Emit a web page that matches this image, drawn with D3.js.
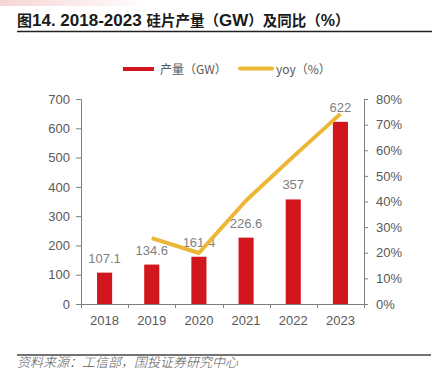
<!DOCTYPE html>
<html><head><meta charset="utf-8">
<script src="https://cdn.jsdelivr.net/npm/d3@7/dist/d3.min.js"></script>
<style>body{margin:0;background:#fff}svg{display:block}</style>
</head><body>
<svg id="c" width="432" height="382"></svg>
<script>
const years = ["2018","2019","2020","2021","2022","2023"];
const output = [107.1,134.6,161.4,226.6,357,622];
const yoy = [null,25.7,19.9,40.4,57.5,74.2];
const leftTicks = [0,100,200,300,400,500,600,700];
const rightTicks = [0,10,20,30,40,50,60,70,80];

const svg = d3.select("#c");
const latin = "'Liberation Sans', Arial, sans-serif";
const cjk = "'Noto Sans CJK SC', sans-serif";

// faint top-left tint
const defs = svg.append("defs");
const g1 = defs.append("linearGradient").attr("id","tint").attr("x1","0").attr("x2","1").attr("y1","0").attr("y2","0");
g1.append("stop").attr("offset","0").attr("stop-color","#f2b8b8").attr("stop-opacity",0.6);
g1.append("stop").attr("offset","1").attr("stop-color","#f2b8b8").attr("stop-opacity",0);
svg.append("rect").attr("x",0).attr("y",0).attr("width",150).attr("height",6).attr("fill","url(#tint)");

// title
const t = svg.append("text").attr("x",17).attr("y",26).attr("fill","#1a1a1a");
t.append("tspan").attr("font-family",cjk).attr("font-size",15).attr("font-weight",700).text("图");
t.append("tspan").attr("font-family",latin).attr("font-size",17).attr("font-weight",700).text("14. 2018-2023 ");
t.append("tspan").attr("font-family",cjk).attr("font-size",14.5).attr("font-weight",700).text("硅片产量（");
t.append("tspan").attr("font-family",latin).attr("font-size",17).attr("font-weight",700).text("GW");
t.append("tspan").attr("font-family",cjk).attr("font-size",14.5).attr("font-weight",700).text("）及同比（");
t.append("tspan").attr("font-family",latin).attr("font-size",16).attr("font-weight",700).text("%");
t.append("tspan").attr("font-family",cjk).attr("font-size",14.5).attr("font-weight",700).text("）");
svg.append("line").attr("x1",17).attr("x2",432).attr("y1",31.5).attr("y2",31.5).attr("stroke","#222").attr("stroke-width",1.5);

// legend
svg.append("rect").attr("x",123).attr("y",67).attr("width",31).attr("height",4).attr("fill","#d2161e");
svg.append("text").attr("x",160).attr("y",73.5).attr("font-family",cjk).attr("font-size",12).attr("fill","#595959").text("产量（GW）");
svg.append("line").attr("x1",240).attr("x2",272).attr("y1",68.5).attr("y2",68.5).attr("stroke","#ebb735").attr("stroke-width",4).attr("stroke-linecap","round");
svg.append("text").attr("x",276).attr("y",73.5).attr("font-family",cjk).attr("font-size",12).attr("fill","#595959").text("yoy（%）");

// scales
const left = 81, right = 364, y0 = 304, yTop = 99;
const x = d3.scaleBand().domain(years).range([left,right]).paddingInner(0.68).paddingOuter(0.34);
const yL = d3.scaleLinear().domain([0,700]).range([y0,yTop]);
const yR = d3.scaleLinear().domain([0,80]).range([y0,yTop]);

const axisColor = "#7f7f7f";
function styleAxis(g){
  g.select(".domain").attr("stroke",axisColor);
  g.selectAll(".tick line").attr("stroke",axisColor);
  g.selectAll(".tick text").attr("font-family",latin).attr("font-size",13).attr("fill","#595959");
}
svg.append("g").attr("transform",`translate(${left},0)`)
  .call(d3.axisLeft(yL).tickValues(leftTicks).tickSize(5).tickSizeOuter(5).tickPadding(6))
  .call(styleAxis);
svg.append("g").attr("transform",`translate(${right},0)`)
  .call(d3.axisRight(yR).tickValues(rightTicks).tickFormat(d=>d+"%").tickSize(4).tickSizeOuter(4).tickPadding(8))
  .call(styleAxis);

// x axis: ticks between categories
const xg = svg.append("g").attr("transform",`translate(0,${y0})`);
xg.append("line").attr("x1",left).attr("x2",right).attr("y1",0.5).attr("y2",0.5).attr("stroke",axisColor);
const step = x.step();
const bounds = d3.range(years.length+1).map(i=>left + i*step);
xg.selectAll(".bt").data(bounds).join("line")
  .attr("x1",d=>Math.round(d)+0.5).attr("x2",d=>Math.round(d)+0.5).attr("y1",0).attr("y2",4).attr("stroke",axisColor);
xg.selectAll(".xl").data(years).join("text")
  .attr("x",d=>x(d)+x.bandwidth()/2).attr("y",21).attr("text-anchor","middle")
  .attr("font-family",latin).attr("font-size",13).attr("fill","#595959").text(d=>d);

// bars
svg.selectAll(".bar").data(years).join("rect")
  .attr("x",d=>x(d)).attr("width",x.bandwidth())
  .attr("y",(d,i)=>yL(output[i])).attr("height",(d,i)=>y0-yL(output[i]))
  .attr("fill","#d2161e");

// value labels
svg.selectAll(".vl").data(years).join("text")
  .attr("x",d=>x(d)+x.bandwidth()/2).attr("y",(d,i)=>yL(output[i])-10)
  .attr("text-anchor","middle").attr("font-family",latin).attr("font-size",13).attr("fill","#7f7f7f")
  .text((d,i)=>output[i]);

// yoy line
const pts = years.map((d,i)=>({x:x(d)+x.bandwidth()/2, v:yoy[i]})).filter(p=>p.v!==null);
svg.append("path").datum(pts)
  .attr("d",d3.line().x(p=>p.x).y(p=>yR(p.v)))
  .attr("fill","none").attr("stroke","#ebb735").attr("stroke-width",4).attr("stroke-linejoin","round");

// source
svg.append("line").attr("x1",17).attr("x2",431).attr("y1",355).attr("y2",355).attr("stroke","#444").attr("stroke-width",1.5);
svg.append("text").attr("x",17).attr("y",367).attr("font-family",cjk).attr("font-size",13).attr("font-style","italic").attr("font-weight",300).attr("fill","#595959").text("资料来源：工信部，国投证券研究中心");
</script>
</body></html>
